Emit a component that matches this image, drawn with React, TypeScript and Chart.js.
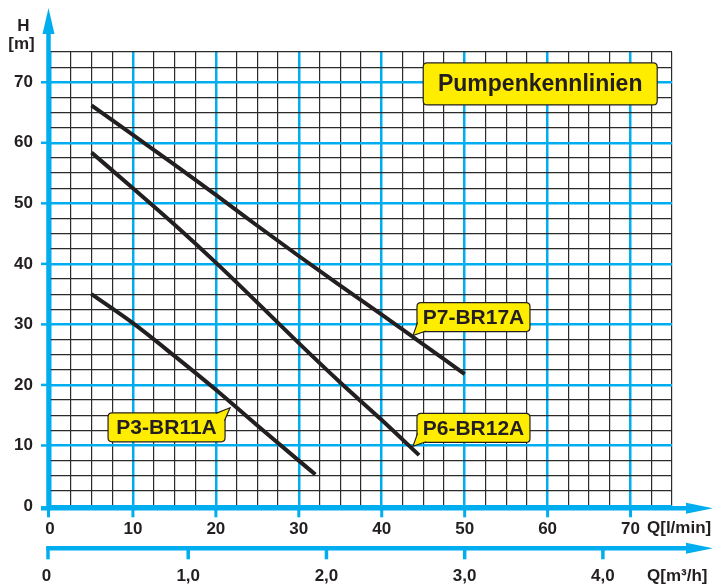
import React, { useEffect, useRef } from "react";
import { Chart, registerables } from "chart.js";

Chart.register(...registerables);

// ---- Data (Q in l/min, H in m) ----
const qP3 = [5, 10, 15, 20, 25, 30, 32];
const hP3 = [35, 30.2, 24.8, 19.2, 13.3, 7.5, 5.2];
const qP6 = [5, 10, 15, 20, 25, 30, 35, 40, 44.5];
const hP6 = [58.4, 52.5, 46.5, 40.2, 33.6, 26.9, 20.4, 14.2, 8.4];
const qP7 = [5, 10, 15, 20, 25, 30, 35, 40, 45, 50];
const hP7 = [66.2, 61.3, 56.4, 51.4, 46.3, 41.3, 36.4, 31.6, 26.7, 21.8];
const seriesNames = ["P3-BR11A", "P6-BR12A", "P7-BR17A"];
const chartTitle = "Pumpenkennlinien";
const qTicksLmin = [0, 10, 20, 30, 40, 50, 60, 70];
const qTicksM3h = [0, 1, 2, 3, 4];
const hTicks = [0, 10, 20, 30, 40, 50, 60, 70];
const qUnitLmin = "Q[l/min]";
const qUnitM3h = "Q[m³/h]";
const hUnit = ["H", "[m]"];

const BLUE = "#00aeef";
const INK = "#231f20";
const YELLOW = "#ffed00";
const FONT = '"Liberation Sans", Arial, Helvetica, sans-serif';

const isMajor = (v: number) => Math.abs(v / 10 - Math.round(v / 10)) < 1e-6;

function toPts(q: number[], h: number[]) {
  return q.map((v, i) => ({ x: v, y: h[i] }));
}

function roundRect(ctx: CanvasRenderingContext2D, x: number, y: number, w: number, h: number, r: number) {
  ctx.beginPath();
  ctx.moveTo(x + r, y);
  ctx.lineTo(x + w - r, y);
  ctx.quadraticCurveTo(x + w, y, x + w, y + r);
  ctx.lineTo(x + w, y + h - r);
  ctx.quadraticCurveTo(x + w, y + h, x + w - r, y + h);
  ctx.lineTo(x + r, y + h);
  ctx.quadraticCurveTo(x, y + h, x, y + h - r);
  ctx.lineTo(x, y + r);
  ctx.quadraticCurveTo(x, y, x + r, y);
  ctx.closePath();
}

// tail: 'bl' bottom-left pointing down-left, 'tr' top-right pointing up-right, '' none
function bubble(
  ctx: CanvasRenderingContext2D,
  x: number,
  y: number,
  w: number,
  h: number,
  text: string,
  size: number,
  tail: string
) {
  ctx.save();
  ctx.fillStyle = YELLOW;
  ctx.strokeStyle = INK;
  ctx.lineWidth = 1.2;
  roundRect(ctx, x, y, w, h, 4);
  ctx.fill();
  ctx.stroke();
  if (tail) {
    ctx.beginPath();
    if (tail === "bl") {
      ctx.moveTo(x + 0.6, y + h - 9);
      ctx.lineTo(x - 4, y + h + 4);
      ctx.lineTo(x + 9, y + h - 0.6);
    } else {
      ctx.moveTo(x + w - 9, y + 0.6);
      ctx.lineTo(x + w + 5, y - 5);
      ctx.lineTo(x + w - 0.6, y + 8);
    }
    ctx.fill();
    ctx.stroke();
    ctx.beginPath();
    if (tail === "bl") {
      ctx.moveTo(x + 1.5, y + h - 8);
      ctx.lineTo(x - 2, y + h + 1.5);
      ctx.lineTo(x + 8, y + h - 1.5);
    } else {
      ctx.moveTo(x + w - 8, y + 1.5);
      ctx.lineTo(x + w + 2.5, y - 2);
      ctx.lineTo(x + w - 1.5, y + 7);
    }
    ctx.fill();
  }
  ctx.fillStyle = INK;
  ctx.font = `bold ${size}px ${FONT}`;
  ctx.textAlign = "center";
  ctx.textBaseline = "middle";
  ctx.fillText(text, x + w / 2, y + h / 2 + 1);
  ctx.restore();
}

const decoPlugin = {
  id: "deco",
  afterDraw(chart: any) {
    const { ctx } = chart;
    const xs = chart.scales.x;
    const ys = chart.scales.y;
    const line = (x1: number, y1: number, x2: number, y2: number) => {
      ctx.beginPath();
      ctx.moveTo(x1, y1);
      ctx.lineTo(x2, y2);
      ctx.stroke();
    };
    const tri = (a: number[], b: number[], c: number[]) => {
      ctx.beginPath();
      ctx.moveTo(a[0], a[1]);
      ctx.lineTo(b[0], b[1]);
      ctx.lineTo(c[0], c[1]);
      ctx.closePath();
      ctx.fill();
    };
    ctx.save();
    ctx.strokeStyle = BLUE;
    ctx.fillStyle = BLUE;
    ctx.lineCap = "butt";

    const ax = xs.getPixelForValue(0) - 1.5;
    const ay = ys.getPixelForValue(0) + 2.3;

    ctx.lineWidth = 2.5;
    hTicks.forEach((h) => {
      if (h > 0) {
        const py = ys.getPixelForValue(h);
        line(41, py, xs.left, py);
      }
    });

    ctx.lineWidth = 4.5;
    line(ax, ay + 2, ax, 30);
    tri([ax, 8], [ax - 6, 34], [ax + 6, 34]);

    line(41, ay, 690, ay);
    tri([713, ay], [686, ay - 5.5], [686, ay + 5.5]);

    ctx.lineWidth = 3;
    qTicksLmin.forEach((q) => {
      const px = q === 0 ? ax : xs.getPixelForValue(q);
      line(px, ay, px, ay + 9);
    });

    const sy = ay + 40;
    ctx.lineWidth = 4.5;
    line(ax - 2.2, sy, 690, sy);
    tri([713, sy], [686, sy - 5.5], [686, sy + 5.5]);
    ctx.lineWidth = 3.5;
    qTicksM3h.forEach((v) => {
      const px = v === 0 ? ax - 0.5 : xs.getPixelForValue((v * 1000) / 60);
      line(px, sy - 2, px, sy + 11);
    });

    ctx.fillStyle = INK;
    ctx.font = `bold 17px ${FONT}`;
    ctx.textBaseline = "middle";
    ctx.textAlign = "center";
    ctx.fillText(hUnit[0], 23.5, 26);
    ctx.fillText(hUnit[1], 21.5, 44.5);
    qTicksM3h.forEach((v) => {
      const px = v === 0 ? ax - 2 : xs.getPixelForValue((v * 1000) / 60);
      const label = v === 0 ? "0" : v.toFixed(1).replace(".", ",");
      ctx.fillText(label, px, 576);
    });
    ctx.textAlign = "left";
    ctx.fillText(qUnitLmin, 647, 528.5);
    ctx.fillText(qUnitM3h, 647, 576);

    const bx = (q: number) => xs.getPixelForValue(q);
    const by = (h: number) => ys.getPixelForValue(h);
    bubble(ctx, bx(45), by(73.2), 234, 42, chartTitle, 23, "");
    bubble(ctx, bx(44.25), by(33.6), 113, 29, seriesNames[2], 21, "bl");
    bubble(ctx, bx(44.25), by(15.3), 113, 29, seriesNames[1], 21, "bl");
    bubble(ctx, bx(7.0), by(15.4), 117, 29, seriesNames[0], 21, "tr");

    ctx.restore();
  },
};

export default function App() {
  const ref = useRef<HTMLCanvasElement | null>(null);
  useEffect(() => {
    if (!ref.current) return;
    const gridColor = (c: any) => (c.tick && isMajor(c.tick.value) ? BLUE : "#2b2b2b");
    const gridWidth = (c: any) => (c.tick && isMajor(c.tick.value) ? 2.5 : 1.2);
    const tickFont = { family: FONT, size: 17, weight: "bold" as const };
    const chart = new Chart(ref.current, {
      type: "line",
      data: {
        datasets: [
          { label: seriesNames[0], data: toPts(qP3, hP3) },
          { label: seriesNames[1], data: toPts(qP6, hP6) },
          { label: seriesNames[2], data: toPts(qP7, hP7) },
        ].map((d) => ({
          ...d,
          borderColor: INK,
          borderWidth: 4,
          pointRadius: 0,
          cubicInterpolationMode: "monotone" as const,
          fill: false,
        })),
      },
      options: {
        responsive: false,
        animation: false,
        devicePixelRatio: 1,
        layout: { padding: { left: 0, top: 52, right: 42, bottom: 0 } },
        plugins: { legend: { display: false }, tooltip: { enabled: false } },
        scales: {
          x: {
            type: "linear",
            min: 0,
            max: 75,
            afterFit: (s: any) => {
              s.height = 78;
            },
            border: { display: false },
            grid: { color: gridColor, lineWidth: gridWidth, drawTicks: false },
            ticks: {
              stepSize: 2.5,
              autoSkip: false,
              maxRotation: 0,
              padding: 13,
              color: INK,
              font: tickFont,
              callback: (v: any) => (isMajor(Number(v)) && Number(v) <= 70 ? String(Math.round(Number(v))) : ""),
            },
          },
          y: {
            type: "linear",
            min: 0,
            max: 75,
            afterFit: (s: any) => {
              s.width = 50;
            },
            border: { display: false },
            grid: { color: gridColor, lineWidth: gridWidth, drawTicks: false },
            ticks: {
              stepSize: 2.5,
              autoSkip: false,
              padding: 17,
              color: INK,
              font: tickFont,
              callback: (v: any) => (isMajor(Number(v)) && Number(v) <= 70 ? String(Math.round(Number(v))) : ""),
            },
          },
        },
      },
      plugins: [decoPlugin],
    } as any);
    return () => chart.destroy();
  }, []);
  return (
    <div style={{ position: "fixed", left: 0, top: 0, width: 714, height: 584, background: "#fff" }}>
      <canvas ref={ref} width={714} height={584} style={{ display: "block" }} />
    </div>
  );
}
